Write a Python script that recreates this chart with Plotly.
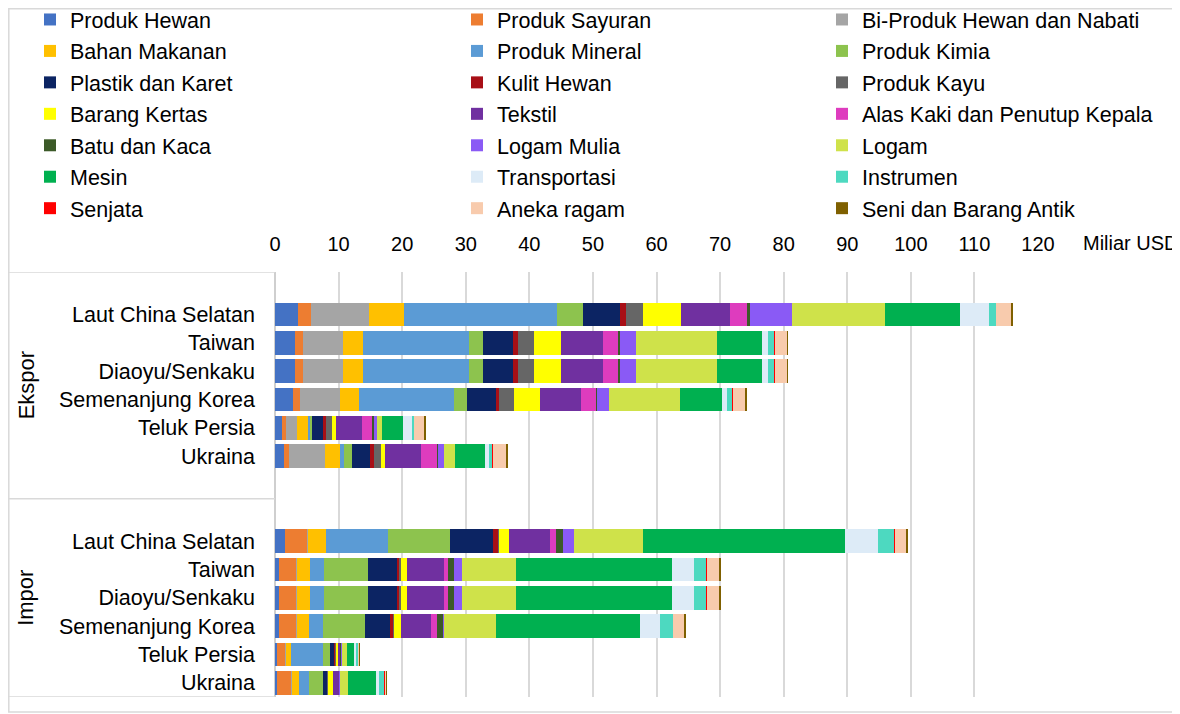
import plotly.graph_objects as go

# Row labels (Ekspor group then Impor group)
regions = ["Laut China Selatan", "Taiwan", "Diaoyu/Senkaku",
           "Semenanjung Korea", "Teluk Persia", "Ukraina"]
groups = ["Ekspor", "Impor"]
x_ticks = [0, 10, 20, 30, 40, 50, 60, 70, 80, 90, 100, 110, 120]
unit_label = "Miliar USD"

# Values in Miliar USD, order: Ekspor x6 regions, Impor x6 regions
produk_hewan   = [3.6, 3.1, 3.1, 2.85, 1.15, 1.42, 1.6, 0.7, 0.7, 0.7, 0.37, 0.37]
produk_sayuran = [2.1, 1.3, 1.3, 1.05, 0.63, 0.79, 3.55, 2.75, 2.75, 2.75, 1.31, 2.25]
bi_produk      = [9.1, 6.3, 6.3, 6.4, 1.73, 5.66, 0.1, 0.05, 0.05, 0.05, 0.05, 0.05]
bahan_makanan  = [5.55, 3.15, 3.15, 2.9, 1.68, 2.36, 2.7, 1.95, 1.95, 1.8, 0.79, 1.05]
produk_mineral = [23.95, 16.6, 16.6, 14.9, 0.26, 0.63, 9.85, 2.3, 2.3, 2.25, 4.98, 1.57]
produk_kimia   = [4.2, 2.25, 2.25, 2.1, 0.42, 1.2, 9.8, 6.95, 6.95, 6.55, 1.2, 2.2]
plastik_karet  = [5.75, 4.8, 4.8, 4.55, 1.73, 2.88, 6.7, 4.55, 4.55, 4.05, 0.73, 0.79]
kulit_hewan    = [0.95, 0.65, 0.65, 0.5, 0.47, 0.63, 0.8, 0.4, 0.4, 0.5, 0.15, 0.05]
produk_kayu    = [2.6, 2.6, 2.6, 2.35, 0.94, 1.05, 0.15, 0.1, 0.1, 0.1, 0.05, 0.05]
barang_kertas  = [6.0, 4.2, 4.2, 4.1, 0.63, 0.68, 1.5, 1.0, 1.0, 1.1, 0.26, 0.79]
tekstil        = [7.7, 6.7, 6.7, 6.45, 4.09, 5.71, 6.55, 5.85, 5.85, 4.75, 0.42, 0.94]
alas_kaki      = [2.85, 2.45, 2.45, 2.35, 1.68, 2.52, 0.9, 0.6, 0.6, 0.8, 0.05, 0.05]
batu_kaca      = [0.3, 0.15, 0.15, 0.1, 0.1, 0.1, 1.1, 1.0, 1.0, 1.15, 0.05, 0.05]
logam_mulia    = [6.7, 2.6, 2.6, 2.0, 0.52, 0.89, 1.75, 1.15, 1.15, 0.1, 0.05, 0.05]
logam          = [14.6, 12.7, 12.7, 11.1, 0.79, 1.83, 10.9, 8.5, 8.5, 8.1, 0.79, 1.26]
mesin          = [11.8, 7.0, 7.0, 6.6, 3.25, 4.61, 31.7, 24.65, 24.65, 22.6, 1.31, 4.35]
transportasi   = [4.6, 1.05, 1.05, 0.85, 1.47, 0.68, 5.15, 3.35, 3.35, 3.2, 0.26, 0.52]
instrumen      = [1.05, 0.95, 0.95, 0.8, 0.37, 0.63, 2.7, 2.0, 2.0, 2.05, 0.26, 0.79]
senjata        = [0.05, 0.03, 0.03, 0.03, 0.02, 0.02, 0.03, 0.15, 0.15, 0.05, 0.02, 0.26]
aneka_ragam    = [2.35, 1.95, 1.95, 2.05, 1.62, 2.1, 1.85, 1.9, 1.9, 1.8, 0.16, 0.1]
seni_antik     = [0.15, 0.1, 0.1, 0.1, 0.1, 0.2, 0.1, 0.1, 0.1, 0.1, 0.05, 0.02]

series = [
    ("Produk Hewan", produk_hewan, "#4472C4"),
    ("Produk Sayuran", produk_sayuran, "#ED7D31"),
    ("Bi-Produk Hewan dan Nabati", bi_produk, "#A5A5A5"),
    ("Bahan Makanan", bahan_makanan, "#FFC000"),
    ("Produk Mineral", produk_mineral, "#5B9BD5"),
    ("Produk Kimia", produk_kimia, "#8DC34E"),
    ("Plastik dan Karet", plastik_karet, "#0C2463"),
    ("Kulit Hewan", kulit_hewan, "#A80F16"),
    ("Produk Kayu", produk_kayu, "#666666"),
    ("Barang Kertas", barang_kertas, "#FFFF00"),
    ("Tekstil", tekstil, "#7030A0"),
    ("Alas Kaki dan Penutup Kepala", alas_kaki, "#DE3CBE"),
    ("Batu dan Kaca", batu_kaca, "#3C5A28"),
    ("Logam Mulia", logam_mulia, "#8A5AF5"),
    ("Logam", logam, "#CFE24A"),
    ("Mesin", mesin, "#00B050"),
    ("Transportasi", transportasi, "#DDEBF7"),
    ("Instrumen", instrumen, "#4DD9C0"),
    ("Senjata", senjata, "#FF0000"),
    ("Aneka ragam", aneka_ragam, "#F8CBAD"),
    ("Seni dan Barang Antik", seni_antik, "#7F6000"),
]

# category slots: blank, 6 Ekspor, blank, blank, 6 Impor
ekspor_pos = [1, 2, 3, 4, 5, 6]
impor_pos = [9, 10, 11, 12, 13, 14]
y_pos = ekspor_pos + impor_pos
y_text = regions + regions

FONT = "Liberation Sans, Arial, sans-serif"
TXT = 21.5
legend_keys = ["legend", "legend2", "legend3"]

fig = go.Figure()
for i, (name, vals, color) in enumerate(series):
    fig.add_trace(go.Bar(
        x=vals, y=y_pos, orientation="h", name=name,
        marker=dict(color=color, line=dict(width=0)),
        width=0.83, legend=legend_keys[i % 3], legendgroup=name,
    ))

# page is drawn with an 8px body offset; work in screen pixels
OFF = 8
W, H = 1180 - OFF, 714 - OFF
L = 275 - OFF
T = 272 - OFF
R = W - (1038 - OFF)
B = H - (697 - OFF)
pw = W - L - R
ph = H - T - B

def px_x(s):
    return (s - OFF - L) / pw

def px_y(s):
    return 1 - (s - OFF - T) / ph

leg_common = dict(orientation="v", yanchor="top", xanchor="left",
                  y=px_y(-1), traceorder="grouped", tracegroupgap=0.5,
                  font=dict(family=FONT, size=TXT, color="#000000"),
                  bgcolor="rgba(0,0,0,0)", borderwidth=0)

fig.update_layout(
    width=W, height=H,
    margin=dict(l=L, r=R, t=T, b=B, autoexpand=False),
    barmode="stack",
    paper_bgcolor="white", plot_bgcolor="white",
    font=dict(family=FONT, size=TXT, color="#000000"),
    xaxis=dict(range=[0, 120], side="top", tickvals=x_ticks,
               ticktext=[str(v) for v in x_ticks],
               showgrid=True, gridcolor="#d9d9d9", gridwidth=1.5,
               zeroline=False, showline=False, ticks="",
               ticklabelstandoff=16,
               tickfont=dict(family=FONT, size=20, color="#000000")),
    yaxis=dict(range=[14.5, -0.5], tickvals=y_pos, ticktext=y_text,
               showgrid=False, zeroline=False, showline=False, ticks="",
               ticklabelstandoff=19,
               tickfont=dict(family=FONT, size=TXT, color="#000000")),
    legend=dict(x=px_x(30), **leg_common),
    legend2=dict(x=px_x(457), **leg_common),
    legend3=dict(x=px_x(822), **leg_common),
    showlegend=True,
)

fig.add_annotation(text=unit_label, xref="paper", yref="paper",
                   x=px_x(1081), y=px_y(243), xanchor="left", yanchor="middle",
                   showarrow=False, font=dict(family=FONT, size=20, color="#000000"))
fig.add_annotation(text=groups[0], xref="paper", yref="y", x=px_x(26), y=3.5,
                   textangle=-90, showarrow=False, xanchor="center", yanchor="middle",
                   font=dict(family=FONT, size=22, color="#000000"))
fig.add_annotation(text=groups[1], xref="paper", yref="y", x=px_x(26), y=11,
                   textangle=-90, showarrow=False, xanchor="center", yanchor="middle",
                   font=dict(family=FONT, size=22, color="#000000"))

line_col = "#d9d9d9"
# outer frame
fig.add_shape(type="rect", xref="paper", yref="paper",
              x0=px_x(8.8), x1=px_x(1200), y0=px_y(712), y1=px_y(8.8),
              line=dict(color=line_col, width=1.5), layer="below")
# category table lines
for yv in [-0.5, 7.5, 14.5]:
    fig.add_shape(type="line", xref="paper", yref="y",
                  x0=px_x(8.8), x1=0, y0=yv, y1=yv,
                  line=dict(color=line_col, width=1.5))
fig.add_shape(type="line", xref="paper", yref="y", x0=0, x1=0, y0=-0.5, y1=14.5,
              line=dict(color="#bfbfbf", width=1.5), layer="below")

fig.write_html("out.html")
